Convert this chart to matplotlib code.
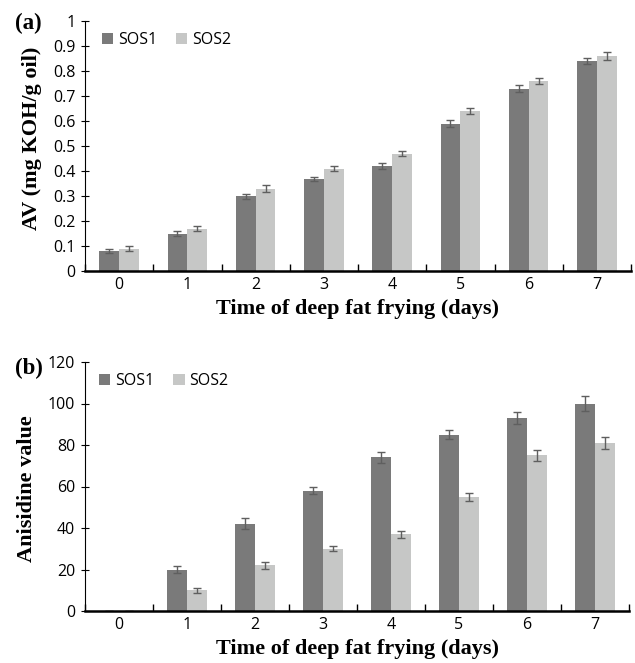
import matplotlib
matplotlib.use("Agg")
import matplotlib.pyplot as plt
import numpy as np
from matplotlib.ticker import FixedLocator

days = ["0", "1", "2", "3", "4", "5", "6", "7"]
av_sos1 = [0.08, 0.15, 0.30, 0.37, 0.42, 0.59, 0.73, 0.84]
av_sos2 = [0.09, 0.17, 0.33, 0.41, 0.47, 0.64, 0.76, 0.86]
av_err1 = [0.008, 0.009, 0.010, 0.008, 0.011, 0.013, 0.014, 0.011]
av_err2 = [0.009, 0.011, 0.013, 0.009, 0.010, 0.013, 0.012, 0.015]

an_sos1 = [0, 20, 42, 58, 74, 85, 93, 100]
an_sos2 = [0, 10, 22, 30, 37, 55, 75, 81]
an_err1 = [0, 1.7, 2.6, 1.8, 2.7, 2.2, 3.0, 3.5]
an_err2 = [0, 1.2, 1.85, 1.2, 1.6, 2.0, 2.6, 3.0]

C1 = "#7a7a7a"
C2 = "#c6c7c6"
ECOL = "#5f5f5f"
TICKFONT = "Open Sans"
LABFONT = "Liberation Serif"
TFS = 11.5
LFS = 16

fig = plt.figure(figsize=(6.35, 6.63), dpi=100)
W, H = 635, 663

def make_ax(left, top, right, bottom):
    return fig.add_axes([left / W, 1 - bottom / H, (right - left) / W, (bottom - top) / H])

def draw(ax, s1, s2, e1, e2, ymax, ystep, ylabel, panel, yfmt, leg_xy, ylab_xy, xlab_y, panel_xy):
    x = np.arange(len(days))
    bw = 0.29
    ax.bar(x - bw / 2, s1, bw, color=C1, label="SOS1", edgecolor="none",
           yerr=[e if v > 0 else 0 for v, e in zip(s1, e1)],
           error_kw=dict(ecolor=ECOL, elinewidth=1.0, capsize=3, capthick=1.0))
    ax.bar(x + bw / 2, s2, bw, color=C2, label="SOS2", edgecolor="none",
           yerr=[e if v > 0 else 0 for v, e in zip(s2, e2)],
           error_kw=dict(ecolor=ECOL, elinewidth=1.0, capsize=3, capthick=1.0))
    ax.set_xlim(-0.5, len(days) - 0.5)
    ax.set_ylim(0, ymax)
    ticks = np.arange(0, ymax + ystep / 2, ystep)
    ax.set_yticks(ticks)
    ax.set_yticklabels([yfmt(t) for t in ticks], fontsize=TFS, family=TICKFONT)
    ax.set_xticks(x)
    ax.set_xticklabels(days, fontsize=TFS, family=TICKFONT)
    ax.xaxis.set_minor_locator(FixedLocator(np.arange(-0.5, len(days), 1.0)))
    ax.tick_params(axis="x", which="major", length=0, pad=4)
    ax.tick_params(axis="x", which="minor", direction="in", length=5, width=1, color="black")
    ax.tick_params(axis="y", which="major", direction="inout", length=6, width=0.8, pad=4)
    for s in ["top", "right"]:
        ax.spines[s].set_visible(False)
    ax.spines["bottom"].set_linewidth(1.8)
    ax.spines["left"].set_linewidth(0.8)
    ax.set_xlabel("Time of deep fat frying (days)", family=LABFONT, fontweight="bold",
                  fontsize=LFS)
    ax.xaxis.set_label_coords(0.5, xlab_y)
    ax.set_ylabel(ylabel, family=LABFONT, fontweight="bold", fontsize=LFS)
    ax.yaxis.set_label_coords(*ylab_xy)
    ax.legend(loc="center left", bbox_to_anchor=leg_xy, ncol=2, frameon=False,
              prop=dict(family=TICKFONT, size=TFS), handlelength=0.7, handleheight=0.7,
              handletextpad=0.3, columnspacing=1.2, borderaxespad=0, borderpad=0)
    ax.text(panel_xy[0], panel_xy[1], panel, transform=ax.transAxes, family=LABFONT,
            fontweight="bold", fontsize=16.5, ha="left", va="center")

ax1 = make_ax(85, 21, 631, 271)
draw(ax1, av_sos1, av_sos2, av_err1, av_err2, 1.0, 0.1, "AV (mg KOH/g oil)", "(a)",
     lambda t: "0" if t == 0 else ("1" if abs(t - 1) < 1e-9 else f"{t:.1f}"),
     (0.031, 0.924), (-0.079, 0.532), -0.113, (-0.128, 0.99))

ax2 = make_ax(85, 362, 629, 611)
draw(ax2, an_sos1, an_sos2, an_err1, an_err2, 120, 20, "Anisidine value", "(b)",
     lambda t: f"{int(round(t))}",
     (0.026, 0.924), (-0.088, 0.492), -0.111, (-0.128, 0.975))

fig.savefig("out.png", dpi=100)
